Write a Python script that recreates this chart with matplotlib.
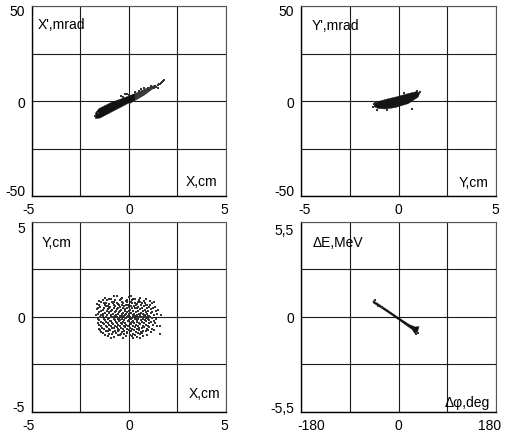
"""Four phase-space portraits of the beam: X-X', Y-Y', X-Y and dphi-dE."""
import matplotlib

matplotlib.use("Agg")
import matplotlib.pyplot as plt  # noqa: E402
from matplotlib.transforms import ScaledTranslation  # noqa: E402

plt.rcParams["font.family"] = ["Liberation Sans", "DejaVu Sans"]
plt.rcParams["font.size"] = 10

# --- X-X' : dense core, lighter tail, stray particles (cm, mrad) ---
xx_core_x = [-1.72, -1.55, -0.9, -0.3, 0.3, 0.3, -0.3, -0.9, -1.5, -1.74]
xx_core_y = [-6.2, -4.0, -0.7, 1.5, 3.8, 0.6, -2.6, -5.8, -9.0, -9.2]
xx_tail_x = [0.0, 0.8, 1.3, 1.45, 1.3, 0.8, 0.0]
xx_tail_y = [2.6, 6.4, 8.3, 8.0, 6.8, 3.0, -1.8]
xx_dots_x = [1.3, 1.4, 1.5, 1.6, 1.7, 1.75, 1.65, 1.55, 1.8, 1.35, 1.2, 1.0,
             -0.4, -0.2, 0.0, -0.3, 0.3, -1.75, -1.6, 0.8, 1.15, 1.5, 0.5,
             -0.1, 0.6, 1.05]
xx_dots_y = [7.0, 7.6, 8.4, 9.0, 9.8, 10.4, 9.3, 8.8, 11.0, 8.0, 7.4, 6.8,
             2.8, 3.6, 3.1, 2.2, 5.0, -8.0, -6.3, 7.0, 8.0, 7.0, 5.3,
             3.9, 6.4, 6.0]

# --- Y-Y' ---
yy_core_x = [-1.25, -1.05, -0.6, -0.18, 0.49, 0.9, 1.1,
             1.0, 0.49, -0.18, -0.7, -1.05, -1.25]
yy_core_y = [-1.5, -0.3, 1.0, 2.0, 3.9, 4.9, 4.4,
             2.0, -1.4, -3.5, -4.2, -3.9, -3.0]
yy_dots_x = [-1.3, -1.28, 0.7, 1.1, -1.1, 0.95, -0.6, 0.3, -1.2]
yy_dots_y = [-3.2, -1.8, -4.2, 5.0, -4.5, 5.2, -4.5, 4.1, -0.6]

# --- X-Y cross-section (cm), two batches of particles ---
xy_x = [-1.22, -0.93, -0.61, -0.34, -0.02, 0.31, 0.58, -0.78, 0.12,
        -1.52, -1.12, -0.76, -0.48, -0.17, 0.18, 0.44, 0.79, 1.08, -1.33,
        -1.63, -1.31, -1.02, -0.83, -0.56, -0.29, -0.06, 0.16, 0.41, 0.66, 0.92, 1.19,
        -1.47, -1.19, -0.96, -0.71, -0.44, -0.24, 0.01, 0.26, 0.49, 0.76, 1.01, 1.36,
        -1.66, -1.36, -1.09, -0.86, -0.62, -0.39, -0.18, 0.04, 0.29, 0.56, 0.81, 1.12, 1.52,
        -1.56, -1.24, -1.01, -0.74, -0.52, -0.31, -0.09, 0.11, 0.34, 0.61, 0.87, 1.21,
        -1.71, -1.42, -1.14, -0.91, -0.66, -0.46, -0.21, -0.01, 0.19, 0.41, 0.59, 0.82,
        1.02, 1.31, 1.66,
        -1.49, -1.18, -0.81, -0.62, -0.41, -0.26, -0.11, 0.06, 0.21, 0.36, 0.51, 0.64,
        0.74, 0.84, 0.91, 1.09, -0.95, 0.45,
        -1.61, -1.29, -1.06, -0.79, -0.56, -0.36, -0.14, 0.09, 0.31, 0.49, 0.71, 0.96, 1.41,
        -1.44, -1.21, -0.94, -0.69, -0.51, -0.29, -0.04, 0.14, 0.39, 0.66, 0.89, 1.16,
        -1.54, -1.31, -1.04, -0.81, -0.59, -0.34, -0.16, 0.11, 0.36, 0.59, 0.86, 1.26, 1.61,
        -1.39, -1.14, -0.89, -0.64, -0.41, -0.19, 0.06, 0.29, 0.54, 0.79, 1.04,
        -1.51, -1.19, -0.96, -0.71, -0.49, -0.26, 0.01, 0.24, 0.51, 0.74, 0.99, 1.29,
        -1.36, -1.01, -0.69, -0.39, -0.11, 0.21, 0.46, 0.69, 1.58,
        -1.09, -0.76, -0.44, -0.14, 0.16, 0.41, 0.71,
        -0.91, -0.31, 0.19, 0.55]
xy_y = [1.02, 0.97, 1.08, 0.99, 1.05, 0.95, 1.01, 1.12, 1.10,
        0.83, 0.88, 0.81, 0.90, 0.84, 0.87, 0.79, 0.86, 0.82, 0.92,
        0.68, 0.73, 0.66, 0.75, 0.69, 0.72, 0.65, 0.74, 0.67, 0.71, 0.64, 0.73,
        0.53, 0.58, 0.51, 0.57, 0.52, 0.59, 0.54, 0.56, 0.50, 0.58, 0.53, 0.55,
        0.41, 0.37, 0.43, 0.39, 0.44, 0.36, 0.42, 0.38, 0.45, 0.40, 0.36, 0.42, 0.39,
        0.26, 0.22, 0.28, 0.24, 0.27, 0.21, 0.26, 0.23, 0.28, 0.22, 0.27, 0.24,
        0.11, 0.08, 0.13, 0.09, 0.12, 0.07, 0.11, 0.14, 0.08, 0.12, 0.09, 0.13,
        0.07, 0.11, 0.09,
        -0.01, 0.02, -0.02, 0.01, 0.03, -0.01, 0.02, -0.02, 0.01, 0.03, -0.01, 0.02,
        -0.02, 0.01, -0.01, 0.02, 0.00, 0.00,
        -0.09, -0.12, -0.08, -0.13, -0.09, -0.11, -0.07, -0.12, -0.08, -0.13, -0.09, -0.11, -0.10,
        -0.24, -0.28, -0.22, -0.27, -0.23, -0.26, -0.21, -0.28, -0.24, -0.27, -0.22, -0.26,
        -0.41, -0.37, -0.43, -0.38, -0.42, -0.39, -0.44, -0.37, -0.42, -0.38, -0.43, -0.40, -0.45,
        -0.56, -0.52, -0.58, -0.53, -0.57, -0.51, -0.56, -0.53, -0.58, -0.52, -0.55,
        -0.69, -0.73, -0.67, -0.72, -0.68, -0.74, -0.69, -0.71, -0.66, -0.73, -0.68, -0.71,
        -0.84, -0.88, -0.83, -0.87, -0.82, -0.89, -0.84, -0.86, -0.90,
        -0.99, -1.03, -0.97, -1.02, -0.98, -1.04, -1.00,
        -1.12, -1.09, -1.13, -1.10]
xy_x_b = [-1.05, -0.70, -0.40, -0.10, 0.22, 0.50, 0.90,
          -1.42, -1.18, -0.90, -0.62, -0.38, -0.12, 0.08, 0.30, 0.55, 0.85, 1.28,
          -1.55, -1.25, -1.08, -0.78, -0.50, -0.35, -0.15, 0.10, 0.35, 0.62, 0.88, 1.10,
          -1.58, -1.28, -1.02, -0.78, -0.55, -0.30, -0.08, 0.15, 0.40, 0.68, 0.92, 1.22,
          -1.45, -1.15, -0.92, -0.68, -0.45, -0.22, 0.00, 0.22, 0.45, 0.72, 1.00, 1.38,
          -1.62, -1.32, -1.05, -0.82, -0.58, -0.38, -0.15, 0.08, 0.28, 0.50, 0.72, 0.95,
          1.15, 1.45,
          -1.35, -1.05, -0.72, -0.52, -0.33, -0.18, -0.03, 0.14, 0.28, 0.43, 0.58, 0.70,
          0.80, 0.88, 0.96, 1.20,
          -1.52, -1.22, -0.98, -0.72, -0.46, -0.25, -0.02, 0.20, 0.42, 0.60, 0.82, 1.05, 1.30,
          -1.58, -1.34, -1.08, -0.85, -0.62, -0.40, -0.18, 0.05, 0.28, 0.52, 0.78, 1.02, 1.35,
          -1.45, -1.18, -0.92, -0.70, -0.48, -0.25, -0.03, 0.22, 0.48, 0.72, 0.98, 1.42,
          -1.55, -1.28, -1.02, -0.78, -0.55, -0.30, -0.08, 0.18, 0.42, 0.66, 0.92, 1.18,
          -1.42, -1.10, -0.84, -0.58, -0.35, -0.12, 0.12, 0.36, 0.62, 0.88, 1.12,
          -1.22, -0.86, -0.55, -0.26, 0.05, 0.32, 0.58, 0.92]
xy_y_b = [0.94, 0.91, 0.96, 0.92, 0.95, 0.90, 0.93,
          0.78, 0.76, 0.79, 0.75, 0.78, 0.77, 0.80, 0.76, 0.78, 0.75, 0.79,
          0.61, 0.63, 0.60, 0.64, 0.62, 0.61, 0.63, 0.60, 0.62, 0.64, 0.61, 0.63,
          0.48, 0.46, 0.49, 0.45, 0.47, 0.48, 0.46, 0.49, 0.47, 0.45, 0.48, 0.46,
          0.33, 0.31, 0.34, 0.30, 0.32, 0.33, 0.31, 0.34, 0.32, 0.30, 0.33, 0.31,
          0.18, 0.16, 0.19, 0.15, 0.17, 0.18, 0.16, 0.19, 0.17, 0.15, 0.18, 0.16,
          0.19, 0.17,
          0.05, -0.04, 0.04, -0.05, 0.05, -0.04, 0.04, -0.05, 0.05, -0.04, 0.04, -0.05,
          0.05, -0.04, 0.04, -0.05,
          -0.18, -0.16, -0.19, -0.15, -0.17, -0.18, -0.16, -0.19, -0.17, -0.15, -0.18, -0.16, -0.19,
          -0.33, -0.31, -0.34, -0.30, -0.32, -0.33, -0.31, -0.34, -0.32, -0.30, -0.33, -0.31, -0.34,
          -0.48, -0.46, -0.49, -0.45, -0.47, -0.48, -0.46, -0.49, -0.47, -0.45, -0.48, -0.46,
          -0.63, -0.61, -0.64, -0.60, -0.62, -0.63, -0.61, -0.64, -0.62, -0.60, -0.63, -0.61,
          -0.78, -0.76, -0.79, -0.75, -0.77, -0.78, -0.76, -0.79, -0.77, -0.75, -0.78,
          -0.94, -0.92, -0.95, -0.91, -0.93, -0.94, -0.92, -0.95]

# --- longitudinal: phase (deg) vs energy (MeV) ---
pe_core_x = [-47, -40, -20, 0, 20, 31, 38, 35, 30, 25, 15, 0, -20, -40, -47]
pe_core_y = [0.95, 0.82, 0.4, -0.03, -0.44, -0.58, -0.55, -0.86, -0.95, -0.72,
             -0.5, -0.16, 0.27, 0.68, 0.82]
pe_dots_x = [-44, -38, 36, 32, -30]
pe_dots_y = [1.0, 0.62, -0.95, -0.98, 0.55]

panels = [
    dict(lim=(5, 50), ticks=["-5", "0", "5"], yticks=["-50", "0", "50"],
         ylab="X',mrad", xlab="X,cm"),
    dict(lim=(5, 50), ticks=["-5", "0", "5"], yticks=["-50", "0", "50"],
         ylab="Y',mrad", xlab="Y,cm"),
    dict(lim=(5, 5), ticks=["-5", "0", "5"], yticks=["-5", "0", "5"],
         ylab="Y,cm", xlab="X,cm"),
    dict(lim=(180, 5.5), ticks=["-180", "0", "180"], yticks=["-5,5", "0", "5,5"],
         ylab="\u0394E,MeV", xlab="\u0394\u03c6,deg"),
]
rects = [
    [0.0632, 0.5471, 0.3834, 0.4368],
    [0.5949, 0.5471, 0.3854, 0.4368],
    [0.0632, 0.0506, 0.3834, 0.4368],
    [0.5949, 0.0506, 0.3854, 0.4368],
]
# pixel nudges of the end tick labels: (x-left, x-right), (y-bottom, y-top)
xnudge = [(-3, -2), (4, -1), (-3, -2), (10, -6)]
ynudge = [(7, -3), (7, -3), (6, -5), (5, -7)]

fig = plt.figure(figsize=(5.06, 4.35), dpi=100)
axes = []
for p, r, xn, yn in zip(panels, rects, xnudge, ynudge):
    ax = fig.add_axes(r)
    xm, ym = p["lim"]
    ax.set_xlim(-xm, xm)
    ax.set_ylim(-ym, ym)
    ax.set_xticks([-xm, 0, xm])
    ax.set_xticklabels(p["ticks"])
    ax.set_yticks([-ym, 0, ym])
    ax.set_yticklabels(p["yticks"])
    ax.set_xticks([-xm / 2, xm / 2], minor=True)
    ax.set_yticks([-ym / 2, ym / 2], minor=True)
    ax.tick_params(which="both", length=0)
    ax.tick_params(axis="x", pad=4)
    ax.tick_params(axis="y", pad=5)
    ax.grid(which="both", color="#1a1a1a", linewidth=0.8)
    ax.set_axisbelow(True)
    for side in ("left", "bottom"):
        ax.spines[side].set_color("black")
        ax.spines[side].set_linewidth(1.0)
    for side in ("top", "right"):
        ax.spines[side].set_color("#555555")
        ax.spines[side].set_linewidth(0.8)

    xl = ax.get_xticklabels()
    for lab, dx in ((xl[0], xn[0]), (xl[-1], xn[1])):
        lab.set_transform(lab.get_transform()
                          + ScaledTranslation(dx / 100, 0, fig.dpi_scale_trans))
    yl = ax.get_yticklabels()
    for lab, dy in ((yl[0], yn[0]), (yl[-1], yn[1])):
        lab.set_transform(lab.get_transform()
                          + ScaledTranslation(0, dy / 100, fig.dpi_scale_trans))
    axes.append(ax)

ax1, ax2, ax3, ax4 = axes

ax1.fill(xx_tail_x, xx_tail_y, color="#3a3a3a", lw=0, zorder=3)
ax1.fill(xx_core_x, xx_core_y, color="#111111", lw=0.3, zorder=3)
ax1.scatter(xx_dots_x, xx_dots_y, s=1.2, marker="s", color="#333333", lw=0, zorder=3)

ax2.fill(yy_core_x, yy_core_y, color="#151515", lw=0.3, zorder=3)
ax2.scatter(yy_dots_x, yy_dots_y, s=1.2, marker="s", color="#333333", lw=0, zorder=3)

# particles of the cross-section, ~1 px each
ax3.scatter(xy_x, xy_y, s=0.7, marker="s", color="#333333", lw=0, zorder=3)
ax3.scatter(xy_x_b, xy_y_b, s=0.7, marker="s", color="#333333", lw=0, zorder=3)

ax4.fill(pe_core_x, pe_core_y, color="#111111", lw=0.3, zorder=3)
ax4.scatter(pe_dots_x, pe_dots_y, s=1.2, marker="s", color="#333333", lw=0, zorder=3)

# axis names are written inside the frames
inner = [
    ((0.03, 0.905), (0.954, 0.079)),
    ((0.056, 0.90), (0.964, 0.074)),
    ((0.05, 0.895), (0.969, 0.10)),
    ((0.06, 0.895), (0.97, 0.053)),
]
for ax, p, (tl, br) in zip(axes, panels, inner):
    ax.text(tl[0], tl[1], p["ylab"], transform=ax.transAxes, ha="left", va="center")
    ax.text(br[0], br[1], p["xlab"], transform=ax.transAxes, ha="right", va="center")

fig.savefig("out.png", dpi=100)
